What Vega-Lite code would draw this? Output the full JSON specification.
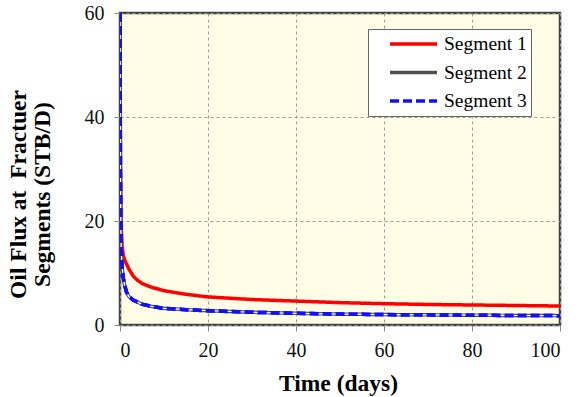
{
  "$schema": "https://vega.github.io/schema/vega-lite/v6.json",
  "width": 440,
  "height": 312,
  "autosize": {"type": "none"},
  "padding": {"left": 120, "top": 13, "right": 21, "bottom": 72},
  "background": "white",
  "config": {
    "font": "Liberation Serif",
    "view": {"fill": "#fffde6", "stroke": "#404040", "strokeWidth": 2.5},
    "axis": {
      "domain": false,
      "grid": true,
      "gridColor": "#999999",
      "gridDash": [3, 3],
      "gridWidth": 1,
      "tickColor": "#888888",
      "labelFont": "Liberation Serif",
      "labelFontSize": 20,
      "labelColor": "#111111",
      "titleFont": "Liberation Serif",
      "titleFontWeight": "bold",
      "titleFontSize": 23.5,
      "titleColor": "#000000"
    }
  },
  "data": {
    "values": [
      {"t": 0.02, "v": 60, "s": "Segment 1"},
      {"t": 0.05, "v": 46, "s": "Segment 1"},
      {"t": 0.1, "v": 33, "s": "Segment 1"},
      {"t": 0.2, "v": 23, "s": "Segment 1"},
      {"t": 0.3, "v": 18.5, "s": "Segment 1"},
      {"t": 0.5, "v": 15, "s": "Segment 1"},
      {"t": 0.75, "v": 13.5, "s": "Segment 1"},
      {"t": 1, "v": 12.6, "s": "Segment 1"},
      {"t": 1.5, "v": 11.7, "s": "Segment 1"},
      {"t": 2, "v": 10.8, "s": "Segment 1"},
      {"t": 3, "v": 9.4, "s": "Segment 1"},
      {"t": 4, "v": 8.6, "s": "Segment 1"},
      {"t": 5, "v": 8.0, "s": "Segment 1"},
      {"t": 7, "v": 7.3, "s": "Segment 1"},
      {"t": 10, "v": 6.6, "s": "Segment 1"},
      {"t": 15, "v": 5.9, "s": "Segment 1"},
      {"t": 20, "v": 5.4, "s": "Segment 1"},
      {"t": 30, "v": 4.9, "s": "Segment 1"},
      {"t": 40, "v": 4.6, "s": "Segment 1"},
      {"t": 50, "v": 4.3, "s": "Segment 1"},
      {"t": 60, "v": 4.1, "s": "Segment 1"},
      {"t": 70, "v": 3.95, "s": "Segment 1"},
      {"t": 80, "v": 3.85, "s": "Segment 1"},
      {"t": 90, "v": 3.75, "s": "Segment 1"},
      {"t": 100, "v": 3.65, "s": "Segment 1"},
      {"t": 0.02, "v": 60, "s": "Segment 2"},
      {"t": 0.05, "v": 42, "s": "Segment 2"},
      {"t": 0.1, "v": 28, "s": "Segment 2"},
      {"t": 0.2, "v": 18, "s": "Segment 2"},
      {"t": 0.3, "v": 14, "s": "Segment 2"},
      {"t": 0.5, "v": 11, "s": "Segment 2"},
      {"t": 0.75, "v": 9, "s": "Segment 2"},
      {"t": 1, "v": 7.8, "s": "Segment 2"},
      {"t": 1.5, "v": 6.3, "s": "Segment 2"},
      {"t": 2, "v": 5.5, "s": "Segment 2"},
      {"t": 3, "v": 4.8, "s": "Segment 2"},
      {"t": 4, "v": 4.4, "s": "Segment 2"},
      {"t": 5, "v": 4.0, "s": "Segment 2"},
      {"t": 7, "v": 3.6, "s": "Segment 2"},
      {"t": 10, "v": 3.2, "s": "Segment 2"},
      {"t": 15, "v": 2.95, "s": "Segment 2"},
      {"t": 20, "v": 2.75, "s": "Segment 2"},
      {"t": 30, "v": 2.45, "s": "Segment 2"},
      {"t": 40, "v": 2.25, "s": "Segment 2"},
      {"t": 50, "v": 2.1, "s": "Segment 2"},
      {"t": 60, "v": 2.0, "s": "Segment 2"},
      {"t": 70, "v": 1.95, "s": "Segment 2"},
      {"t": 80, "v": 1.88, "s": "Segment 2"},
      {"t": 90, "v": 1.83, "s": "Segment 2"},
      {"t": 100, "v": 1.8, "s": "Segment 2"},
      {"t": 0.02, "v": 60, "s": "Segment 3"},
      {"t": 0.05, "v": 42, "s": "Segment 3"},
      {"t": 0.1, "v": 28, "s": "Segment 3"},
      {"t": 0.2, "v": 18, "s": "Segment 3"},
      {"t": 0.3, "v": 14, "s": "Segment 3"},
      {"t": 0.5, "v": 11, "s": "Segment 3"},
      {"t": 0.75, "v": 9, "s": "Segment 3"},
      {"t": 1, "v": 7.8, "s": "Segment 3"},
      {"t": 1.5, "v": 6.3, "s": "Segment 3"},
      {"t": 2, "v": 5.5, "s": "Segment 3"},
      {"t": 3, "v": 4.8, "s": "Segment 3"},
      {"t": 4, "v": 4.4, "s": "Segment 3"},
      {"t": 5, "v": 4.0, "s": "Segment 3"},
      {"t": 7, "v": 3.6, "s": "Segment 3"},
      {"t": 10, "v": 3.2, "s": "Segment 3"},
      {"t": 15, "v": 2.95, "s": "Segment 3"},
      {"t": 20, "v": 2.75, "s": "Segment 3"},
      {"t": 30, "v": 2.45, "s": "Segment 3"},
      {"t": 40, "v": 2.25, "s": "Segment 3"},
      {"t": 50, "v": 2.1, "s": "Segment 3"},
      {"t": 60, "v": 2.0, "s": "Segment 3"},
      {"t": 70, "v": 1.95, "s": "Segment 3"},
      {"t": 80, "v": 1.88, "s": "Segment 3"},
      {"t": 90, "v": 1.83, "s": "Segment 3"},
      {"t": 100, "v": 1.8, "s": "Segment 3"}
    ]
  },
  "encoding": {
    "x": {
      "field": "t", "type": "quantitative",
      "scale": {"domain": [0, 100], "nice": false},
      "axis": {
        "values": [0, 20, 40, 60, 80, 100],
        "labelFont": "Liberation Serif", "labelFontSize": 20,
        "tickSize": 6, "labelPadding": 9,
        "title": "Time (days)", "titleX": 218, "titleY": 65,
        "titleBaseline": "alphabetic", "titleAnchor": "middle"
      }
    },
    "y": {
      "field": "v", "type": "quantitative",
      "scale": {"domain": [0, 60], "nice": false},
      "axis": {
        "values": [0, 20, 40, 60],
        "labelFont": "Liberation Serif", "labelFontSize": 20,
        "tickSize": 6, "labelPadding": 10,
        "title": ["Oil Flux at\u00a0 Fractuer", "Segments (STB/D)"],
        "titleX": -102, "titleY": 181, "titleAngle": -90,
        "titleAlign": "center", "titleBaseline": "middle", "titleLineHeight": 24
      }
    }
  },
  "layer": [
    {
      "mark": {"type": "line", "strokeWidth": 3.5, "clip": true},
      "encoding": {
        "color": {
          "field": "s", "type": "nominal",
          "scale": {"domain": ["Segment 1", "Segment 2", "Segment 3"], "range": ["#ff0000", "#505050", "#1010ff"]},
          "legend": {
            "title": null,
            "orient": "none", "legendX": 248, "legendY": 16,
            "symbolType": "stroke", "symbolSize": 2209, "symbolStrokeWidth": 3.5,
            "clipHeight": 22, "rowPadding": 6.5, "padding": 4, "symbolOffset": 16,
            "labelOffset": 5, "labelFont": "Liberation Serif", "labelFontSize": 19.5, "labelColor": "#000000",
            "fillColor": "white", "strokeColor": "#666666"
          }
        },
        "strokeDash": {
          "field": "s", "type": "nominal",
          "scale": {"domain": ["Segment 1", "Segment 2", "Segment 3"], "range": [[1, 0], [1, 0], [9, 4]]},
          "legend": {
            "title": null,
            "orient": "none", "legendX": 248, "legendY": 16,
            "symbolType": "stroke", "symbolSize": 2209, "symbolStrokeWidth": 3.5,
            "clipHeight": 22, "rowPadding": 6.5, "padding": 4, "symbolOffset": 16,
            "labelOffset": 5, "labelFont": "Liberation Serif", "labelFontSize": 19.5, "labelColor": "#000000",
            "fillColor": "white", "strokeColor": "#666666"
          }
        }
      }
    },
    {
      "transform": [{"filter": "datum.s == 'Segment 2'"}],
      "mark": {"type": "line", "strokeWidth": 1.2, "color": "white", "clip": true},
      "encoding": {}
    },
    {
      "transform": [{"filter": "datum.s == 'Segment 3'"}],
      "mark": {"type": "line", "strokeWidth": 3.5, "color": "#1010ff", "strokeDash": [9, 4], "clip": true},
      "encoding": {}
    }
  ]
}
